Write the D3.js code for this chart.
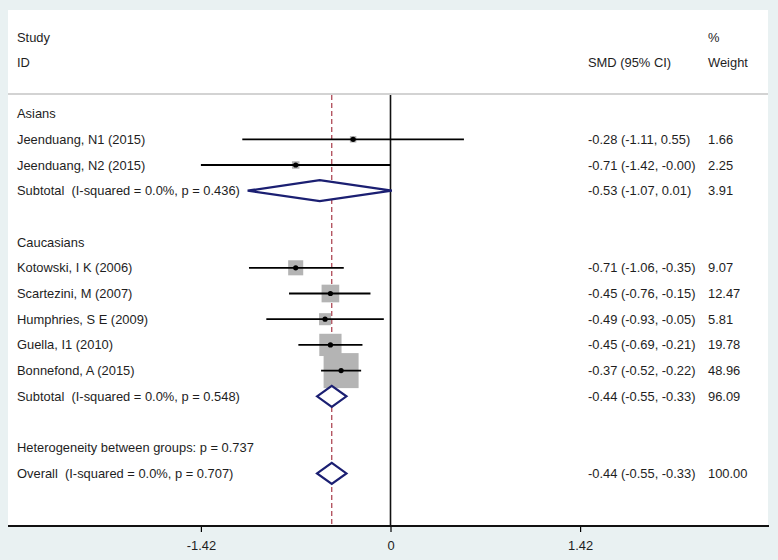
<!DOCTYPE html>
<html><head><meta charset="utf-8">
<script src="https://cdn.jsdelivr.net/npm/d3@7"></script>
<style>body{margin:0;background:#e9f1f2;} svg{display:block;} text{white-space:pre;}</style>
</head><body>
<svg id="chart" width="778" height="560"></svg>
<script>
// Rows: type = text | study | pooled | blank
const rowLabels = ["Asians","Jeenduang, N1 (2015)","Jeenduang, N2 (2015)","Subtotal  (I-squared = 0.0%, p = 0.436)","",
  "Caucasians","Kotowski, I K (2006)","Scartezini, M (2007)","Humphries, S E (2009)","Guella, I1 (2010)","Bonnefond, A (2015)",
  "Subtotal  (I-squared = 0.0%, p = 0.548)","","Heterogeneity between groups: p = 0.737","Overall  (I-squared = 0.0%, p = 0.707)"];
const rowTypes = ["text","study","study","pooled","blank","text","study","study","study","study","study","pooled","blank","text","pooled"];
const estimates = [null,-0.28,-0.71,-0.53,null,null,-0.71,-0.45,-0.49,-0.45,-0.37,-0.44,null,null,-0.44];
const lowerCI   = [null,-1.11,-1.42,-1.07,null,null,-1.06,-0.76,-0.93,-0.69,-0.52,-0.55,null,null,-0.55];
const upperCI   = [null, 0.55,-0.00, 0.01,null,null,-0.35,-0.15,-0.05,-0.21,-0.22,-0.33,null,null,-0.33];
const ciLabels  = ["","-0.28 (-1.11, 0.55)","-0.71 (-1.42, -0.00)","-0.53 (-1.07, 0.01)","","","-0.71 (-1.06, -0.35)","-0.45 (-0.76, -0.15)",
  "-0.49 (-0.93, -0.05)","-0.45 (-0.69, -0.21)","-0.37 (-0.52, -0.22)","-0.44 (-0.55, -0.33)","","","-0.44 (-0.55, -0.33)"];
const weights   = [null,1.66,2.25,3.91,null,null,9.07,12.47,5.81,19.78,48.96,96.09,null,null,100.00];
const weightLabels = ["","1.66","2.25","3.91","","","9.07","12.47","5.81","19.78","48.96","96.09","","","100.00"];
const overallEffect = -0.44;
const tickValues = [-1.42, 0, 1.42];
const tickLabels = ["-1.42","0","1.42"];

const svg = d3.select("#chart");
const font = "Liberation Sans, Arial, sans-serif";
const fs = 12.9;
const textColor = "#1e1e1e";

// white panel
svg.append("rect").attr("x",8).attr("y",10).attr("width",760).attr("height",516).attr("fill","#fff");

const x = d3.scaleLinear().domain([-1.42,1.42]).range([200.9,580.1]);
const y = d3.scaleLinear().domain([0,14]).range([113.6,473.4]);
const studyW = weights.filter((w,i)=>rowTypes[i]==="study");
const box = d3.scaleSqrt().domain([0,d3.max(studyW)]).range([0,35]);

// header
const hdr = svg.append("g").attr("font-family",font).attr("font-size",fs).attr("fill",textColor);
hdr.append("text").attr("x",17).attr("y",41.5).text("Study");
hdr.append("text").attr("x",17).attr("y",67).text("ID");
hdr.append("text").attr("x",588).attr("y",67).text("SMD (95% CI)");
hdr.append("text").attr("x",708).attr("y",41.5).text("%");
hdr.append("text").attr("x",708).attr("y",67).text("Weight");
svg.append("line").attr("x1",8).attr("x2",768).attr("y1",94).attr("y2",94).attr("stroke","#c4c4c4").attr("stroke-width",1.5);

// vertical lines
svg.append("line").attr("x1",x(0)).attr("x2",x(0)).attr("y1",95).attr("y2",526).attr("stroke","#111").attr("stroke-width",1.6);
svg.append("line").attr("x1",x(overallEffect)).attr("x2",x(overallEffect)).attr("y1",95).attr("y2",526)
  .attr("stroke","#a83a48").attr("stroke-width",1.2).attr("stroke-dasharray","5,3");

const idx = d3.range(rowLabels.length);

// boxes
svg.append("g").selectAll("rect").data(idx.filter(i=>rowTypes[i]==="study")).join("rect")
  .attr("x",i=>x(estimates[i])-box(weights[i])/2).attr("y",i=>y(i)-box(weights[i])/2)
  .attr("width",i=>box(weights[i])).attr("height",i=>box(weights[i])).attr("fill","#b4b4b4");
// CI lines
svg.append("g").selectAll("line").data(idx.filter(i=>rowTypes[i]==="study")).join("line")
  .attr("x1",i=>x(lowerCI[i])).attr("x2",i=>x(upperCI[i])).attr("y1",i=>y(i)).attr("y2",i=>y(i))
  .attr("stroke","#000").attr("stroke-width",1.8);
// points
svg.append("g").selectAll("circle").data(idx.filter(i=>rowTypes[i]==="study")).join("circle")
  .attr("cx",i=>x(estimates[i])).attr("cy",i=>y(i)).attr("r",2.6).attr("fill","#000");
// diamonds
svg.append("g").selectAll("path").data(idx.filter(i=>rowTypes[i]==="pooled")).join("path")
  .attr("d",i=>`M${x(lowerCI[i])},${y(i)}L${x(estimates[i])},${y(i)-10.5}L${x(upperCI[i])},${y(i)}L${x(estimates[i])},${y(i)+10.5}Z`)
  .attr("fill","#fff").attr("stroke","#1b1f72").attr("stroke-width",2.2);

// texts
const tg = svg.append("g").attr("font-family",font).attr("font-size",fs).attr("fill",textColor);
tg.selectAll("text.lab").data(idx).join("text").attr("class","lab").attr("x",17).attr("y",i=>y(i)+4.5).text(i=>rowLabels[i]);
tg.selectAll("text.ci").data(idx).join("text").attr("class","ci").attr("x",588).attr("y",i=>y(i)+4.5).text(i=>ciLabels[i]);
tg.selectAll("text.w").data(idx).join("text").attr("class","w").attr("x",708).attr("y",i=>y(i)+4.5).text(i=>weightLabels[i]);

// axis
const axis = d3.axisBottom(x).tickValues(tickValues).tickFormat((d,i)=>tickLabels[i]).tickSize(6).tickPadding(9);
const ag = svg.append("g").attr("transform","translate(0,526)").call(axis);
ag.select(".domain").remove();
ag.selectAll(".tick line").attr("stroke","#000").attr("stroke-width",1.2);
ag.selectAll(".tick text").attr("font-family",font).attr("font-size",fs).attr("fill",textColor);
ag.append("line").attr("x1",8).attr("x2",769).attr("y1",0).attr("y2",0).attr("stroke","#111").attr("stroke-width",2);
</script>
</body></html>
